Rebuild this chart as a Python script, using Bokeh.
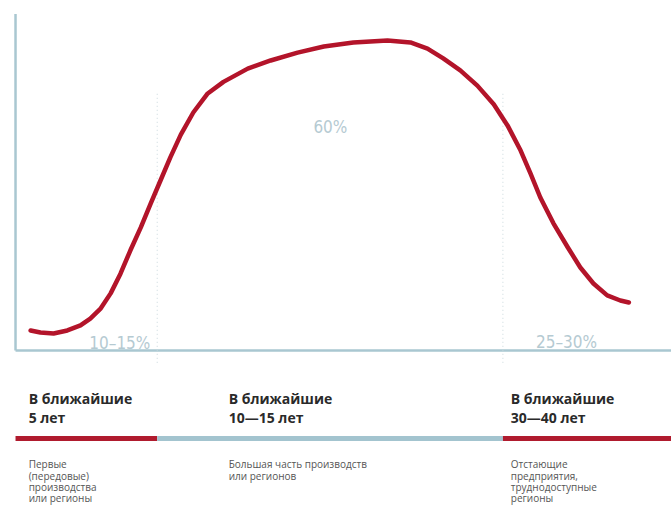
from bokeh.plotting import figure
from bokeh.models import Range1d
from bokeh.core.properties import value
from bokeh.embed import file_html
from bokeh.resources import INLINE

# ---- data (x: time, 0..100; y: share, 0..100) ----
curve_x = [2.3, 3.8, 5.8, 7.9, 9.9, 11.4, 13.0, 14.5, 16.0, 17.5, 19.1, 20.6, 22.1,
           23.6, 25.2, 27.1, 29.3, 31.7, 35.4, 38.9, 43.0, 47.0, 51.5, 56.7, 60.2,
           62.8, 65.2, 67.8, 70.4, 72.9, 75.0, 77.0, 78.5, 80.0, 82.0, 84.2, 86.1,
           88.1, 90.2, 92.2, 93.5]
curve_y = [5.9, 5.3, 5.0, 5.9, 7.4, 9.4, 12.4, 16.8, 22.6, 29.4, 36.2, 43.2, 50.0,
           56.8, 63.5, 70.0, 75.6, 79.0, 82.9, 85.3, 87.6, 89.4, 90.6, 91.2, 90.6,
           88.8, 85.9, 82.4, 77.9, 72.4, 66.2, 58.8, 52.1, 45.0, 37.4, 30.3, 24.4,
           19.7, 16.2, 14.7, 14.1]

phase_bounds = [0, 21.6, 74.3, 100]
phase_colors = ["#b01b2e", "#a3c4cf", "#b01b2e"]

pct_labels = ["10–15%", "60%", "25–30%"]
pct_x = [15.9, 48.0, 84.0]
pct_y = [2.1, 65.6, 2.4]

heading_x = [2.0, 32.5, 75.5]
heading_l1 = ["В ближайшие", "В ближайшие", "В ближайшие"]
heading_l2 = ["5 лет", "10—15 лет", "30—40 лет"]

desc_x = [2.0, 32.5, 75.5]
desc_lines = [
    ["Первые", "(передовые)", "производства", "или регионы"],
    ["Большая часть производств", "или регионов"],
    ["Отстающие", "предприятия,", "труднодоступные", "регионы"],
]

# ---- figure ----
p = figure(width=671, height=512, output_backend="svg", toolbar_location=None,
           x_range=Range1d(-2.29, 100), y_range=Range1d(-47.65, 102.94),
           min_border=0, min_border_left=0, min_border_right=0,
           min_border_top=0, min_border_bottom=0)
p.axis.visible = False
p.grid.visible = False
p.outline_line_color = None
p.background_fill_color = "white"
p.border_fill_color = "white"

axis_col = "#a9c7d1"
# axes lines
p.segment(x0=[0, 0], y0=[0, 0], x1=[0, 100], y1=[99, 0],
          line_color=axis_col, line_width=2.5)

# dotted dividers
p.segment(x0=phase_bounds[1:3], y0=[75.5, 75.5], x1=phase_bounds[1:3], y1=[-3.7, -3.7],
          line_color="#c9d8dd", line_width=1, line_dash="1 3")

# curve
p.line(curve_x, curve_y, line_color="#b3142a", line_width=4.5,
       line_cap="round", line_join="round")

# percentage labels
p.text(x=pct_x, y=pct_y, text=pct_labels, text_align="center",
       text_baseline="alphabetic", text_color="#b5cad2",
       text_font=value("DejaVu Sans Condensed, Roboto, sans-serif"),
       text_font_size="17px")

# timeline bar
p.segment(x0=phase_bounds[:3], y0=[-25.9] * 3, x1=phase_bounds[1:], y1=[-25.9] * 3,
          line_color=phase_colors, line_width=5)

# headings
p.text(x=heading_x, y=[-14.1] * 3, text=heading_l1, text_baseline="alphabetic",
       text_color="#2a2a2a", text_font=value("Open Sans"), text_font_style="bold",
       text_font_size="14px")
p.text(x=heading_x, y=[-19.7] * 3, text=heading_l2, text_baseline="alphabetic",
       text_color="#2a2a2a", text_font=value("Open Sans"), text_font_style="bold",
       text_font_size="14px")

# descriptions
dx, dy, dt = [], [], []
for xi, lines in zip(desc_x, desc_lines):
    for j, t in enumerate(lines):
        dx.append(xi)
        dy.append(-33.5 - 3.3 * j)
        dt.append(t)
p.text(x=dx, y=dy, text=dt, text_baseline="alphabetic", text_color="#555555",
       text_font=value("Open Sans"), text_font_size="10px")

open("out.html", "w").write(file_html(p, INLINE))
